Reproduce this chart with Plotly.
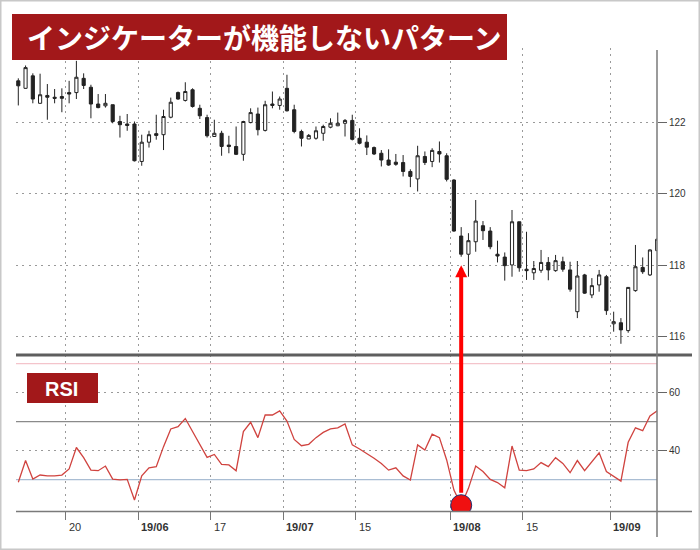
import plotly.graph_objects as go
import pandas as pd

# ---------------- data ----------------
dates = [d.strftime("%Y-%m-%d") for d in pd.bdate_range("2019-05-09", "2019-09-10")]

opens = [123.17, 122.96, 123.31, 122.54, 122.76, 122.71, 122.73, 122.84, 122.84, 123.24,
         122.99, 122.52, 122.47, 122.50, 122.03, 121.96, 121.96, 120.91, 121.45, 121.69,
         121.66, 122.15, 122.84, 122.62, 122.92, 122.40, 122.14, 121.61, 121.70, 121.37,
         121.33, 121.11, 122.00, 122.24, 121.78, 122.52, 122.48, 122.96, 122.36, 121.75,
         121.54, 121.56, 121.70, 121.87, 121.91, 121.98, 122.06, 121.56, 121.45, 121.30,
         121.14, 120.95, 120.89, 120.88, 120.63, 120.42, 121.05, 120.91, 121.19, 121.07,
         120.39, 118.82, 118.31, 118.66, 119.11, 118.96, 118.31, 118.23, 118.01, 119.22,
         117.89, 117.79, 117.86, 118.08, 117.85, 118.10, 117.87, 116.70, 117.73, 117.17,
         117.45, 117.68, 116.36, 116.39, 116.17, 117.29, 117.94, 117.73, 118.41]
highs = [123.24, 123.60, 123.38, 123.37, 123.08, 122.94, 122.96, 123.17, 123.73, 123.38,
         123.06, 122.80, 122.80, 122.50, 122.19, 122.24, 122.03, 121.66, 121.77, 122.22,
         122.36, 122.70, 122.87, 123.13, 122.96, 122.50, 122.22, 122.08, 121.77, 121.63,
         121.89, 122.05, 122.40, 122.42, 122.61, 122.87, 122.73, 123.34, 122.50, 121.80,
         121.68, 121.89, 121.94, 122.12, 122.28, 122.10, 122.22, 121.84, 121.64, 121.33,
         121.23, 121.25, 121.12, 121.09, 120.69, 121.35, 121.19, 121.28, 121.47, 121.14,
         120.41, 119.07, 118.90, 119.83, 119.24, 119.07, 118.69, 118.36, 119.55, 119.22,
         118.94, 118.12, 118.43, 118.23, 118.29, 118.24, 118.10, 118.12, 117.76, 117.64,
         117.87, 117.73, 116.70, 116.52, 117.39, 118.57, 118.22, 118.45, 118.76]
lows = [122.48, 122.95, 122.54, 122.53, 122.08, 122.54, 122.29, 122.54, 122.66, 122.94,
        122.12, 122.40, 122.42, 121.98, 121.58, 121.77, 120.91, 120.79, 121.30, 121.52,
        121.23, 122.12, 122.64, 122.59, 122.42, 122.10, 121.58, 121.60, 121.07, 121.14,
        121.09, 120.93, 121.98, 121.64, 121.75, 122.40, 122.36, 122.31, 121.70, 121.33,
        121.54, 121.52, 121.49, 121.84, 121.90, 121.61, 121.50, 121.39, 121.09, 121.09,
        120.77, 120.79, 120.79, 120.49, 120.19, 120.07, 120.81, 120.75, 120.88, 120.35,
        118.94, 118.24, 117.68, 118.38, 118.71, 118.45, 118.08, 117.57, 117.68, 117.82,
        117.59, 117.59, 117.79, 117.58, 117.82, 117.82, 117.26, 116.52, 117.20, 117.08,
        117.26, 116.61, 116.14, 115.80, 116.11, 117.26, 117.76, 117.70, 118.41]
closes = [123.03, 123.54, 122.66, 122.78, 122.71, 122.68, 122.68, 122.80, 123.27, 123.04,
          122.52, 122.42, 122.54, 122.03, 121.94, 121.92, 120.93, 121.45, 121.66, 121.64,
          122.17, 122.57, 122.66, 122.87, 122.45, 122.19, 121.63, 121.70, 121.33, 121.33,
          121.11, 122.03, 122.28, 121.80, 122.50, 122.48, 122.66, 122.33, 121.75, 121.56,
          121.64, 121.77, 121.89, 121.98, 121.98, 122.06, 121.53, 121.42, 121.31, 121.12,
          120.95, 120.81, 120.83, 120.63, 120.49, 121.07, 120.88, 121.22, 121.12, 120.41,
          118.96, 118.31, 118.69, 119.24, 118.97, 118.52, 118.26, 117.99, 119.22, 117.93,
          117.85, 117.91, 118.08, 117.87, 118.13, 117.89, 117.33, 117.70, 117.22, 117.43,
          117.73, 116.73, 116.42, 116.19, 117.38, 117.96, 117.82, 118.43, 118.73]
rsi = [29.1, 36.6, 30.2, 31.6, 31.3, 31.3, 31.6, 33.7, 41.1, 37.6,
       33.3, 33.1, 34.7, 30.2, 29.9, 30.1, 23.0, 31.3, 34.1, 34.5,
       41.4, 47.5, 48.3, 51.1, 46.6, 42.0, 37.7, 38.7, 35.3, 35.1,
       33.1, 46.6, 49.8, 44.5, 52.3, 52.3, 53.7, 50.2, 43.9, 41.7,
       42.2, 44.5, 46.3, 47.5, 47.9, 49.2, 42.0, 40.6, 39.1, 37.4,
       35.6, 33.3, 34.1, 31.3, 29.9, 42.0, 40.2, 45.7, 44.5, 36.8,
       26.4, 21.2, 27.0, 34.7, 32.8, 30.1, 29.0, 27.2, 41.6, 33.3,
       33.1, 33.7, 35.9, 34.5, 37.6, 35.6, 32.4, 36.6, 33.1, 36.2,
       39.3, 32.8, 31.0, 29.5, 42.9, 47.9, 46.9, 52.0, 53.8]

tick_dates = ["2019-05-20", "2019-06-03", "2019-06-17", "2019-07-01",
              "2019-07-15", "2019-08-01", "2019-08-15", "2019-09-02"]
tick_labels = ["20", "19/06", "17", "19/07", "15", "19/08", "15", "19/09"]
tick_bold = [False, True, False, True, False, True, False, True]
price_ticks = [116, 118, 120, 122]
rsi_ticks = [40, 60]
rsi_oversold, rsi_mid, rsi_overbought = 30, 50, 70
signal_date = "2019-08-02"
signal_arrow_price = 118.0
title_text = "インジケーターが機能しないパターン"
panel_text = "RSI"

# ---------------- helpers ----------------
W, H = 700, 550
def px(x):
    return x / W
def py(y):
    return 1 - y / H

idx = list(range(len(dates)))
tick_pos = [dates.index(d) - 0.5 for d in tick_dates]
sig = dates.index(signal_date)

DOT = "2px,4.3px"
GRID = "#9a9a9a"
LBL = dict(family="Liberation Sans, Arial, sans-serif", size=10, color="#333")

fig = go.Figure()

fig.add_trace(go.Candlestick(
    x=idx, open=opens, high=highs, low=lows, close=closes,
    increasing=dict(line=dict(color="#222", width=1), fillcolor="white"),
    decreasing=dict(line=dict(color="#222", width=1), fillcolor="#222"),
    whiskerwidth=0, showlegend=False, xaxis="x", yaxis="y",
    text=dates, hoverinfo="text+y",
))

fig.add_trace(go.Scatter(
    x=idx, y=rsi, mode="lines", line=dict(color="#d0433f", width=1.3),
    showlegend=False, xaxis="x", yaxis="y2", text=dates,
))

fig.add_trace(go.Scatter(
    x=[sig], y=[rsi[sig]], mode="markers",
    marker=dict(size=21, color="#f01010", line=dict(color="#1d2f70", width=1)),
    showlegend=False, xaxis="x", yaxis="y2",
))

shapes = [
    dict(type="line", xref="x domain", yref="y2", x0=0, x1=1, y0=rsi_overbought, y1=rsi_overbought,
         line=dict(color="#f4c4cb", width=1.3), layer="below"),
    dict(type="line", xref="x domain", yref="y2", x0=0, x1=1, y0=rsi_mid, y1=rsi_mid,
         line=dict(color="#8a8a8a", width=1.3), layer="below"),
    dict(type="line", xref="x domain", yref="y2", x0=0, x1=1, y0=rsi_oversold, y1=rsi_oversold,
         line=dict(color="#a9bdd3", width=1.3), layer="below"),
    dict(type="line", xref="paper", yref="paper", x0=px(16), x1=px(692), y0=py(355), y1=py(355),
         line=dict(color="#5e5e5e", width=3), layer="above"),
    dict(type="line", xref="paper", yref="paper", x0=px(16), x1=px(692), y0=py(511.5), y1=py(511.5),
         line=dict(color="#7a7a7a", width=1.6), layer="above"),
    dict(type="line", xref="paper", yref="paper", x0=px(657), x1=px(657), y0=py(50), y1=py(537),
         line=dict(color="#7a7a7a", width=1.5), layer="above"),
    dict(type="rect", xref="paper", yref="paper", x0=px(12), x1=px(507), y0=py(60), y1=py(14),
         fillcolor="#a2181a", line=dict(width=0), layer="above"),
    dict(type="rect", xref="paper", yref="paper", x0=px(27), x1=px(98), y0=py(403), y1=py(373),
         fillcolor="#a2181a", line=dict(width=0), layer="above"),
    dict(type="rect", xref="paper", yref="paper", x0=0, x1=1, y0=0, y1=1,
         line=dict(color="#c8c8c8", width=3), layer="above"),
]

annotations = [
    dict(text="<b>" + title_text + "</b>", xref="paper", yref="paper", x=px(25), y=py(37),
         xanchor="left", yanchor="middle", showarrow=False,
         font=dict(family="Noto Sans CJK JP, sans-serif", size=28, color="white")),
    dict(text="<b>" + panel_text + "</b>", xref="paper", yref="paper", x=px(62), y=py(388.5),
         xanchor="center", yanchor="middle", showarrow=False,
         font=dict(family="Liberation Sans, Arial, sans-serif", size=20, color="white")),
    dict(text="", x=sig, y=signal_arrow_price, xref="x", yref="y",
         ax=0, ay=229, axref="pixel", ayref="pixel", showarrow=True,
         arrowhead=2, arrowsize=0.6, arrowwidth=4, arrowcolor="#ff0000", standoff=0),
]
for pos, lab, b in zip(tick_pos, tick_labels, tick_bold):
    annotations.append(dict(
        text=("<b>%s</b>" % lab) if b else lab, x=pos, y=py(527), xref="x", yref="paper",
        xanchor="left", yanchor="middle", xshift=1, showarrow=False,
        font=dict(family="Liberation Sans, Arial, sans-serif", size=11, color="#333")))

fig.update_layout(
    width=W, height=H, autosize=False,
    margin=dict(l=0, r=0, t=0, b=0),
    paper_bgcolor="white", plot_bgcolor="white",
    showlegend=False, boxgap=0.38,
    xaxis=dict(domain=[px(16), px(657)], range=[-0.318, 87.97], anchor="y2",
               tickvals=tick_pos, showticklabels=False, ticks="outside", ticklen=8,
               tickcolor="#777", tickwidth=1.3,
               showgrid=True, gridcolor=GRID, griddash=DOT, gridwidth=1,
               zeroline=False, showline=False, rangeslider=dict(visible=False),
               automargin=False, fixedrange=True),
    yaxis=dict(domain=[py(352), py(48)], range=[115.57, 124.09], anchor="x", side="right",
               tickvals=price_ticks, ticks="outside", ticklen=9, tickcolor="#666", tickwidth=1.3,
               tickfont=LBL, showgrid=True, gridcolor=GRID, griddash=DOT, gridwidth=1,
               zeroline=False, showline=False, automargin=False, fixedrange=True),
    yaxis2=dict(domain=[py(511), py(355)], range=[19.2, 73.0], anchor="x", side="right",
                tickvals=rsi_ticks, ticks="outside", ticklen=9, tickcolor="#666", tickwidth=1.3,
                tickfont=LBL, showgrid=True, gridcolor=GRID, griddash=DOT, gridwidth=1,
                zeroline=False, showline=False, automargin=False, fixedrange=True),
    shapes=shapes,
    annotations=annotations,
)

fig.write_html("out.html", config={"displayModeBar": False},
               post_script="document.body.style.margin='0px';document.body.style.overflow='hidden';")
